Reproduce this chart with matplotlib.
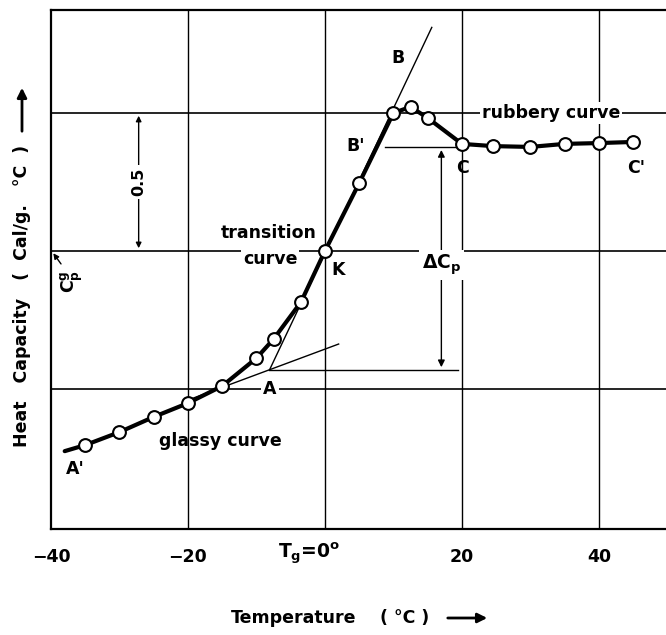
import matplotlib
matplotlib.use("Agg")
import matplotlib.pyplot as plt

# measured heat capacity curve (temperature in degC, Cp in relative units; gridlines at 0, 0.5, 1.0)
temp = [-38.0, -35, -30, -25, -20, -15, -10, -7.5, -3.5, 0, 5, 10, 12.5, 15, 20, 24.5, 30, 35, 40, 45]
cp = [-0.225, -0.203, -0.156, -0.101, -0.051, 0.011, 0.112, 0.181, 0.315, 0.5, 0.746, 1.0, 1.022, 0.982,
      0.888, 0.880, 0.877, 0.888, 0.891, 0.895]

# construction lines
glassy_tan_t = [-20, 2]
glassy_tan_cp = [-0.04, 0.163]
trans_tan_t = [-8.1, 15.6]
trans_tan_cp = [0.069, 1.31]
point_a = (-8.1, 0.069)
delta_x = 17.0

xticks = [-40, -20, 20, 40]
xtick_labels = ["\u221240", "\u221220", "20", "40"]

plt.rcParams['font.family'] = ['DejaVu Sans']
plt.rcParams['font.weight'] = 'bold'
fs = 12.5

fig = plt.figure(figsize=(6.66, 6.35), dpi=100)
ax = fig.add_axes([51 / 666, 1 - 529 / 635, 615 / 666, 519 / 635])
ax.set_xlim(-40, 49.8)
ax.set_ylim(-0.507, 1.373)

for s in ['left', 'bottom', 'top']:
    ax.spines[s].set_linewidth(1.6)
ax.spines['right'].set_visible(False)

# grid
for x in [-20, 0, 20, 40]:
    ax.axvline(x, color='black', lw=1.0, zorder=1)
for y in [0, 0.5, 1.0]:
    ax.axhline(y, color='black', lw=1.2, zorder=1)

# thin construction lines
ax.plot(glassy_tan_t, glassy_tan_cp, color='black', lw=1.0, zorder=2)
ax.plot(trans_tan_t, trans_tan_cp, color='black', lw=1.0, zorder=2)
ax.plot([point_a[0], 19.5], [point_a[1], point_a[1]], color='black', lw=1.0, zorder=2)
ax.plot([8.7, 20], [cp[14] - 0.012, cp[14] - 0.012], color='black', lw=1.0, zorder=2)

# main curve
ax.plot(temp, cp, color='black', lw=3.0, zorder=3, solid_capstyle='round')
ax.plot(temp[1:], cp[1:], 'o', ms=9.2, mfc='white', mec='black', mew=1.5, zorder=4)

# delta Cp arrows
ax.annotate('', xy=(delta_x, cp[14] - 0.012), xytext=(delta_x, 0.45),
            arrowprops=dict(arrowstyle='-|>', color='black', lw=1.0, mutation_scale=10), zorder=2)
ax.annotate('', xy=(delta_x, point_a[1]), xytext=(delta_x, 0.45),
            arrowprops=dict(arrowstyle='-|>', color='black', lw=1.0, mutation_scale=10), zorder=2)
ax.text(delta_x, 0.45, r'$\mathbf{\Delta C_p}$', ha='center', va='center', fontsize=fs + 1,
        bbox=dict(fc='white', ec='none', pad=2), zorder=5)

# 0.5 bracket
ax.annotate('', xy=(-27.2, 1.0), xytext=(-27.2, 0.75),
            arrowprops=dict(arrowstyle='-|>', color='black', lw=1.0, mutation_scale=8))
ax.annotate('', xy=(-27.2, 0.5), xytext=(-27.2, 0.75),
            arrowprops=dict(arrowstyle='-|>', color='black', lw=1.0, mutation_scale=8))
ax.text(-27.2, 0.75, '0.5', rotation=90, ha='center', va='center', fontsize=fs - 1,
        bbox=dict(fc='white', ec='none', pad=2), zorder=5)

# Cp glass marker
ax.annotate('', xy=(-39.9, 0.5), xytext=(-38.3, 0.445),
            arrowprops=dict(arrowstyle='-|>', color='black', lw=1.0, mutation_scale=8))
ax.text(-36.9, 0.39, r'$\mathbf{C_p^g}$', rotation=90, ha='center', va='center', fontsize=fs)

# labels on the chart
white = dict(fc='white', ec='none', pad=1.5)
ax.text(10.7, 1.20, 'B', ha='center', va='center', fontsize=fs)
ax.text(4.5, 0.88, "B'", ha='center', va='center', fontsize=fs)
ax.text(33.0, 1.0, 'rubbery curve', ha='center', va='center', fontsize=fs, bbox=white, zorder=5)
ax.text(20.1, 0.80, 'C', ha='center', va='center', fontsize=fs)
ax.text(45.4, 0.80, "C'", ha='center', va='center', fontsize=fs)
ax.text(1.9, 0.43, 'K', ha='center', va='center', fontsize=fs)
ax.text(-8.2, 0.565, 'transition', ha='center', va='center', fontsize=fs)
ax.text(-8.0, 0.47, 'curve', ha='center', va='center', fontsize=fs, bbox=white, zorder=5)
ax.text(-15.2, -0.19, 'glassy curve', ha='center', va='center', fontsize=fs)
ax.text(-36.5, -0.29, "A'", ha='center', va='center', fontsize=fs)
ax.text(-8.0, 0.0, 'A', ha='center', va='center', fontsize=fs, bbox=white, zorder=5)

# ticks
ax.set_yticks([])
ax.set_xticks(xticks)
ax.set_xticklabels(xtick_labels, fontsize=fs)
ax.tick_params(axis='x', length=0, pad=14)
ax.text(2.2, -0.595, r'$\mathbf{T_g}$=0$^\mathbf{o}$', ha='right', va='center', fontsize=fs + 1)

# axis titles
fig.text(22 / 666, 1 - 296 / 635, 'Heat   Capacity   (  Cal/g.   \u00b0C  )', rotation=90,
         ha='center', va='center', fontsize=fs)
fig.patches.append(matplotlib.patches.FancyArrowPatch(
    (22 / 666, 1 - 134 / 635), (22 / 666, 1 - 85 / 635), transform=fig.transFigure,
    arrowstyle='-|>', mutation_scale=14, lw=2, color='black'))
fig.text(294 / 666, 1 - 618 / 635, 'Temperature', ha='center', va='center', fontsize=fs)
fig.text(405 / 666, 1 - 618 / 635, '( \u00b0C )', ha='center', va='center', fontsize=fs)
fig.patches.append(matplotlib.patches.FancyArrowPatch(
    (445 / 666, 1 - 618 / 635), (490 / 666, 1 - 618 / 635), transform=fig.transFigure,
    arrowstyle='-|>', mutation_scale=14, lw=2, color='black'))

fig.savefig('out.png', dpi=100, facecolor='white')
